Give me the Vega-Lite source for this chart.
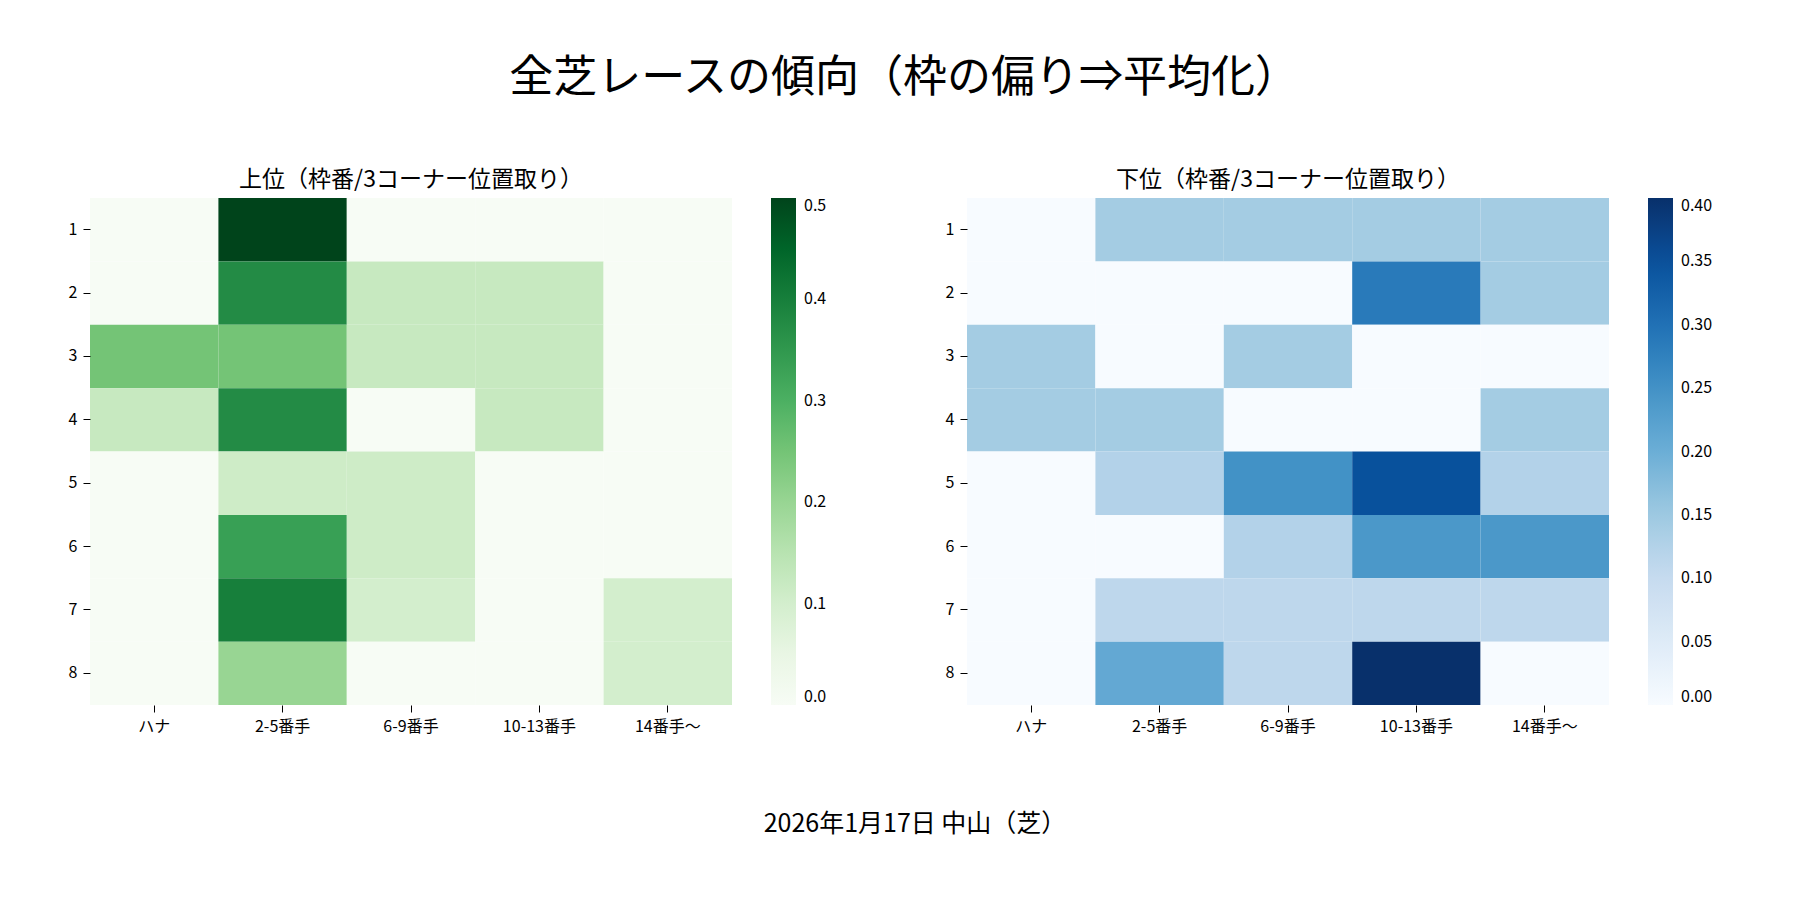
{
"$schema":"https://vega.github.io/schema/vega-lite/v6.json",
"background":"white",
"padding":{"left":68,"top":57,"right":10,"bottom":0},
"config":{"font":"Noto Sans CJK JP","view":{"stroke":null},"concat":{"spacing":0}},
"title":{"text":"全芝レースの傾向（枠の偏り⇒平均化）","fontSize":44,"fontWeight":"normal","anchor":"middle","offset":68,"color":"black"},
"datasets":{
"up":[
{"r":1,"c":"ハナ","v":0},{"r":1,"c":"2-5番手","v":0.5},{"r":1,"c":"6-9番手","v":0},{"r":1,"c":"10-13番手","v":0},{"r":1,"c":"14番手〜","v":0},
{"r":2,"c":"ハナ","v":0},{"r":2,"c":"2-5番手","v":0.375},{"r":2,"c":"6-9番手","v":0.125},{"r":2,"c":"10-13番手","v":0.125},{"r":2,"c":"14番手〜","v":0},
{"r":3,"c":"ハナ","v":0.25},{"r":3,"c":"2-5番手","v":0.25},{"r":3,"c":"6-9番手","v":0.125},{"r":3,"c":"10-13番手","v":0.125},{"r":3,"c":"14番手〜","v":0},
{"r":4,"c":"ハナ","v":0.125},{"r":4,"c":"2-5番手","v":0.375},{"r":4,"c":"6-9番手","v":0},{"r":4,"c":"10-13番手","v":0.125},{"r":4,"c":"14番手〜","v":0},
{"r":5,"c":"ハナ","v":0},{"r":5,"c":"2-5番手","v":0.111},{"r":5,"c":"6-9番手","v":0.111},{"r":5,"c":"10-13番手","v":0},{"r":5,"c":"14番手〜","v":0},
{"r":6,"c":"ハナ","v":0},{"r":6,"c":"2-5番手","v":0.333},{"r":6,"c":"6-9番手","v":0.111},{"r":6,"c":"10-13番手","v":0},{"r":6,"c":"14番手〜","v":0},
{"r":7,"c":"ハナ","v":0},{"r":7,"c":"2-5番手","v":0.4},{"r":7,"c":"6-9番手","v":0.1},{"r":7,"c":"10-13番手","v":0},{"r":7,"c":"14番手〜","v":0.1},
{"r":8,"c":"ハナ","v":0},{"r":8,"c":"2-5番手","v":0.2},{"r":8,"c":"6-9番手","v":0},{"r":8,"c":"10-13番手","v":0},{"r":8,"c":"14番手〜","v":0.1}
],
"down":[
{"r":1,"c":"ハナ","v":0},{"r":1,"c":"2-5番手","v":0.143},{"r":1,"c":"6-9番手","v":0.143},{"r":1,"c":"10-13番手","v":0.143},{"r":1,"c":"14番手〜","v":0.143},
{"r":2,"c":"ハナ","v":0},{"r":2,"c":"2-5番手","v":0},{"r":2,"c":"6-9番手","v":0},{"r":2,"c":"10-13番手","v":0.286},{"r":2,"c":"14番手〜","v":0.143},
{"r":3,"c":"ハナ","v":0.143},{"r":3,"c":"2-5番手","v":0},{"r":3,"c":"6-9番手","v":0.143},{"r":3,"c":"10-13番手","v":0},{"r":3,"c":"14番手〜","v":0},
{"r":4,"c":"ハナ","v":0.143},{"r":4,"c":"2-5番手","v":0.143},{"r":4,"c":"6-9番手","v":0},{"r":4,"c":"10-13番手","v":0},{"r":4,"c":"14番手〜","v":0.143},
{"r":5,"c":"ハナ","v":0},{"r":5,"c":"2-5番手","v":0.125},{"r":5,"c":"6-9番手","v":0.25},{"r":5,"c":"10-13番手","v":0.35},{"r":5,"c":"14番手〜","v":0.125},
{"r":6,"c":"ハナ","v":0},{"r":6,"c":"2-5番手","v":0},{"r":6,"c":"6-9番手","v":0.125},{"r":6,"c":"10-13番手","v":0.24},{"r":6,"c":"14番手〜","v":0.24},
{"r":7,"c":"ハナ","v":0},{"r":7,"c":"2-5番手","v":0.111},{"r":7,"c":"6-9番手","v":0.111},{"r":7,"c":"10-13番手","v":0.111},{"r":7,"c":"14番手〜","v":0.111},
{"r":8,"c":"ハナ","v":0},{"r":8,"c":"2-5番手","v":0.21},{"r":8,"c":"6-9番手","v":0.111},{"r":8,"c":"10-13番手","v":0.4},{"r":8,"c":"14番手〜","v":0}
],
"foot":[{"t":"2026年1月17日 中山（芝）"}]
},
"vconcat":[
{"hconcat":[
{"data":{"name":"up"},"width":642,"height":507,
"title":{"text":"上位（枠番/3コーナー位置取り）","fontSize":23,"fontWeight":"normal","offset":6,"color":"black"},
"mark":{"type":"rect"},
"encoding":{
"x":{"field":"c","type":"nominal","sort":["ハナ","2-5番手","6-9番手","10-13番手","14番手〜"],"title":null,"scale":{"paddingInner":0,"paddingOuter":0},"axis":{"labelAngle":0,"labelFontSize":16,"labelColor":"black","domain":false,"tickColor":"black","tickSize":7,"labelPadding":6}},
"y":{"field":"r","type":"ordinal","title":null,"scale":{"paddingInner":0,"paddingOuter":0},"axis":{"labelFontSize":16,"labelColor":"black","domain":false,"tickColor":"black","tickSize":7,"labelPadding":6}},
"color":{"field":"v","type":"quantitative","title":null,"scale":{"domain":[0,0.5],"range":["#f7fcf5","#e5f5e0","#c7e9c0","#a1d99b","#74c476","#41ab5d","#238b45","#006d2c","#00441b"]},
"legend":{"gradientLength":507,"gradientThickness":25,"offset":39,"values":[0,0.1,0.2,0.3,0.4,0.5],"format":".1f","labelFontSize":16,"labelColor":"black","labelOffset":8,"gradientStrokeWidth":0}}
}},
{"data":{"name":"down"},"width":642,"height":507,
"title":{"text":"下位（枠番/3コーナー位置取り）","fontSize":23,"fontWeight":"normal","offset":6,"color":"black"},
"mark":{"type":"rect"},
"encoding":{
"x":{"field":"c","type":"nominal","sort":["ハナ","2-5番手","6-9番手","10-13番手","14番手〜"],"title":null,"scale":{"paddingInner":0,"paddingOuter":0},"axis":{"labelAngle":0,"labelFontSize":16,"labelColor":"black","domain":false,"tickColor":"black","tickSize":7,"labelPadding":6}},
"y":{"field":"r","type":"ordinal","title":null,"scale":{"paddingInner":0,"paddingOuter":0},"axis":{"labelFontSize":16,"labelColor":"black","domain":false,"tickColor":"black","tickSize":7,"labelPadding":6}},
"color":{"field":"v","type":"quantitative","title":null,"scale":{"domain":[0,0.4],"range":["#f7fbff","#deebf7","#c6dbef","#9ecae1","#6baed6","#4292c6","#2171b5","#08519c","#08306b"]},
"legend":{"gradientLength":507,"gradientThickness":25,"offset":39,"values":[0,0.05,0.1,0.15,0.2,0.25,0.3,0.35,0.4],"format":".2f","labelFontSize":16,"labelColor":"black","labelOffset":8,"gradientStrokeWidth":0}}
}}
],"resolve":{"scale":{"color":"independent"}},"spacing":118},
{"data":{"name":"foot"},"width":1650,"height":60,
"mark":{"type":"text","fontSize":25,"color":"black"},
"encoding":{"text":{"field":"t"}}}
],
"spacing":60
}
